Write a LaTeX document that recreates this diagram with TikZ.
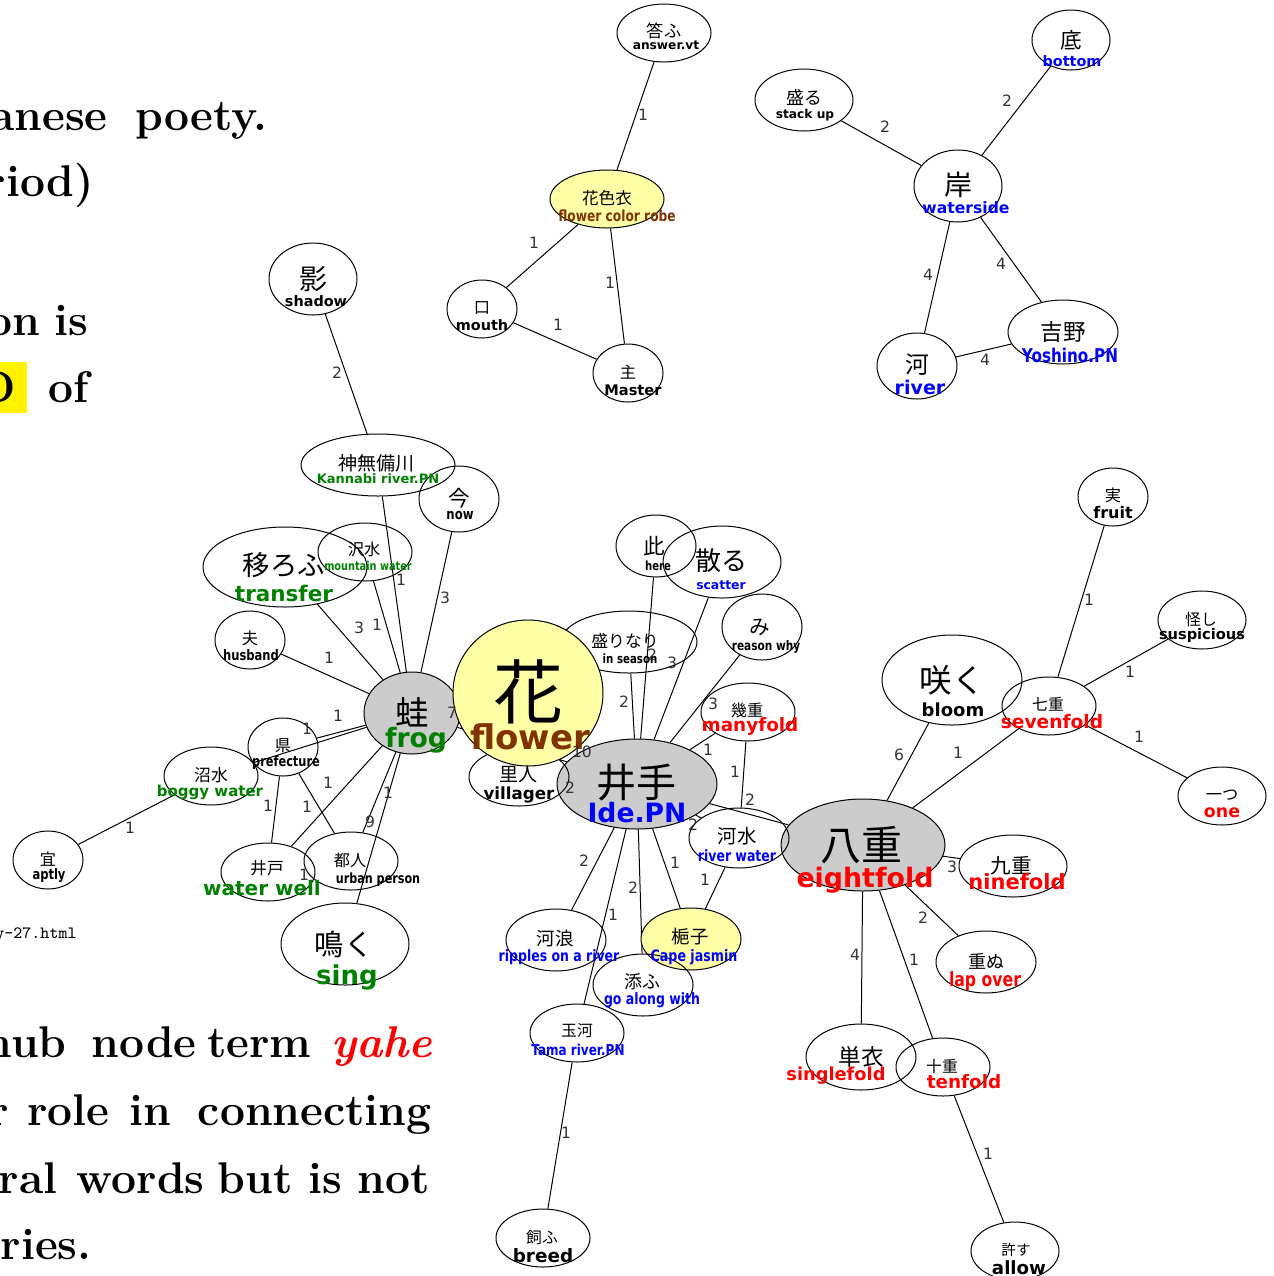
\documentclass[tikz,border=0pt]{standalone}
\usepackage{fontspec}
\usetikzlibrary{shapes.geometric}
\newfontfamily\jpf{Noto Sans CJK JP}
\newfontfamily\enf{DejaVu Sans}
\newfontfamily\enc[FakeStretch=0.8]{DejaVu Sans}
\definecolor{hubgray}{RGB}{204,204,204}
\definecolor{yel}{RGB}{255,255,165}
\definecolor{eblue}{RGB}{0,0,255}
\definecolor{egreen}{RGB}{0,128,0}
\definecolor{ered}{RGB}{255,0,0}
\definecolor{ebrown}{RGB}{128,51,0}
\definecolor{lblgray}{RGB}{51,51,51}
\definecolor{hilite}{RGB}{255,242,0}
\newcommand\J[2]{{\jpf\fontsize{#1}{#1}\selectfont #2}}
\newcommand\E[3]{{\color{#1}\enf\bfseries\fontsize{#2}{#2}\selectfont #3}}
\newcommand\EC[3]{{\color{#1}\enc\bfseries\fontsize{#2}{#2}\selectfont #3}}
\newcommand\nd[6]{\node[#1,minimum width=#5pt,minimum height=#6pt] (#2) at (#3,#4) {};}
\newcommand\tx[4]{\node[txt] (#1) at (#2,#3) {#4};}
\newcommand\lb[4]{\node[lbl] (#1) at (#2,#3) {#4};}
\pgfdeclarelayer{bg}
\pgfdeclarelayer{fg}
\pgfsetlayers{bg,main,fg}
\begin{document}
\begin{tikzpicture}[x=0.5pt,y=-0.5pt,
  wn/.style={ellipse,draw=black,line width=0.5pt,inner sep=0pt},
  gn/.style={wn,fill=hubgray},
  yn/.style={wn,fill=yel},
  edge/.style={draw=black,line width=0.5pt},
  txt/.style={inner sep=0pt,anchor=center},
  lbl/.style={inner sep=0pt,anchor=center,text=lblgray,font=\enf\fontsize{7.8}{7.8}\selectfont},
  lt/.style={inner sep=0pt,anchor=base east,font=\fontsize{22.2}{26}\selectfont\bfseries},
  ]
\useasboundingbox (0,0) rectangle (1274,1276);

% ---- left background text fragments ----
\node[lt] (w1) at (108,130) {anese};
\node[lt] (w2) at (268,130) {poety.};
\node[lt] (w3) at (94,196) {riod)};
\node[lt] (w4) at (41,335) {on};
\node[lt] (w5) at (89,335) {is};
\fill[hilite] (-10,362) rectangle (27,413);
\node[lt] (w6) at (16,402) {D};
\node[lt] (w7) at (89,402) {of};
\node[inner sep=0pt,anchor=base east,font=\ttfamily\fontsize{8.6}{10}\selectfont] (w8) at (77,938) {y-27.html};
\node[lt] (w9) at (67,1057) {hub};
\node[lt] (w10) at (197,1057) {node};
\node[lt] (w11) at (312,1057) {term};
\node[lt,text=ered,font=\fontsize{22.2}{26}\selectfont\bfseries\itshape] (w12) at (433,1057) {yahe};
\node[lt] (w13) at (9,1125) {r};
\node[lt] (w14) at (110,1125) {role};
\node[lt] (w15) at (172,1125) {in};
\node[lt] (w16) at (432,1125) {connecting};
\node[lt] (w17) at (58,1193) {ral};
\node[lt] (w18) at (205,1193) {words};
\node[lt] (w19) at (293,1193) {but};
\node[lt] (w20) at (343,1193) {is};
\node[lt] (w21) at (430,1193) {not};
\node[lt] (w22) at (92,1259) {ries.};

% ---- graph nodes (filled first) ----
\nd{gn}{kawazu}{412}{713}{48}{41}
\nd{gn}{ide}{637}{784}{80}{45}
\nd{gn}{yae}{863}{845}{82}{46}
\nd{yn}{hanairo}{607}{199}{57}{29}
\nd{yn}{kuchinashi}{691}{939}{50}{31}
\nd{wn}{sakari}{629}{642}{68}{31}
\nd{wn}{satobito}{519}{777}{50}{29}
\nd{yn}{hana}{528}{693}{75}{73}
\nd{wn}{kotau}{664}{33}{47}{29}
\nd{wn}{kuchi}{482}{309}{35}{29}
\nd{wn}{nushi}{628}{373}{35}{29}
\nd{wn}{moru}{804}{100}{49}{31}
\nd{wn}{soko}{1071}{40}{39}{30}
\nd{wn}{kishi}{958}{186}{44}{36}
\nd{wn}{kawa}{917}{366}{40}{33}
\nd{wn}{yoshino}{1063}{332}{55}{32}
\nd{wn}{kage}{313}{279}{44}{36}
\nd{wn}{kannabi}{378}{465}{77}{31}
\nd{wn}{ima}{459}{499}{40}{33}
\nd{wn}{utsurou}{285}{567}{82}{40}
\nd{wn}{sawamizu}{365}{552}{47}{29}
\nd{wn}{otto}{250}{640}{35}{29}
\nd{wn}{agata}{283}{747}{35}{29}
\nd{wn}{numamizu}{211}{776}{47}{29}
\nd{wn}{mube}{48}{860}{35}{29}
\nd{wn}{ido}{268}{872}{47}{29}
\nd{wn}{miyako}{351}{861}{47}{29}
\nd{wn}{naku}{345}{944}{64}{41}
\nd{wn}{kore}{656}{546}{40}{31}
\nd{wn}{chiru}{722}{562}{59}{36}
\nd{wn}{mi}{762}{627}{40}{33}
\nd{wn}{ikue}{748}{712}{47}{29}
\nd{wn}{kawamizu}{739}{838}{50}{30}
\nd{wn}{saku}{952}{680}{70}{45}
\nd{wn}{nanae}{1049}{706}{47}{29}
\nd{wn}{jitsu}{1113}{497}{35}{29}
\nd{wn}{ayashi}{1202}{620}{44}{29}
\nd{wn}{hitotsu}{1222}{796}{44}{29}
\nd{wn}{kokonoe}{1013}{866}{54}{31}
\nd{wn}{kasanu}{986}{962}{50}{31}
\nd{wn}{hitoe}{861}{1057}{55}{33}
\nd{wn}{toe}{943}{1067}{47}{29}
\nd{wn}{yurusu}{1015}{1251}{44}{29}
\nd{wn}{kawanami}{556}{940}{50}{31}
\nd{wn}{sou}{643}{985}{50}{31}
\nd{wn}{tamagawa}{577}{1033}{47}{29}
\nd{wn}{kau}{543}{1238}{47}{29}

% ---- edges (behind) ----
\begin{pgfonlayer}{bg}
\draw[edge] (kotau) -- (hanairo);
\draw[edge] (hanairo) -- (kuchi);
\draw[edge] (hanairo) -- (nushi);
\draw[edge] (kuchi) -- (nushi);
\draw[edge] (moru) -- (kishi);
\draw[edge] (soko) -- (kishi);
\draw[edge] (kishi) -- (kawa);
\draw[edge] (kishi) -- (yoshino);
\draw[edge] (kawa) -- (yoshino);
\draw[edge] (kage) -- (kannabi);
\draw[edge] (kannabi) -- (kawazu);
\draw[edge] (ima) -- (kawazu);
\draw[edge] (utsurou) -- (kawazu);
\draw[edge] (sawamizu) -- (kawazu);
\draw[edge] (otto) -- (kawazu);
\draw[edge] (numamizu) -- (kawazu);
\draw[edge] (agata) -- (kawazu);
\draw[edge] (numamizu) -- (mube);
\draw[edge] (agata) -- (ido);
\draw[edge] (agata) -- (miyako);
\draw[edge] (kawazu) -- (ido);
\draw[edge] (kawazu) -- (miyako);
\draw[edge] (kawazu) -- (naku);
\draw[edge] (kawazu) -- (hana);
\draw[edge] (kawazu) -- (ide);
\draw[edge] (ide) -- (satobito);
\draw[edge] (ide) -- (sakari);
\draw[edge] (ide) -- (kore);
\draw[edge] (ide) -- (chiru);
\draw[edge] (ide) -- (mi);
\draw[edge] (ide) -- (ikue);
\draw[edge] (ikue) -- (kawamizu);
\draw[edge] (ide) -- (yae);
\draw[edge] (ide) -- (kawamizu);
\draw[edge] (ide) -- (kawanami);
\draw[edge] (ide) -- (tamagawa);
\draw[edge] (ide) -- (sou);
\draw[edge] (ide) -- (kuchinashi);
\draw[edge] (kawamizu) -- (kuchinashi);
\draw[edge] (tamagawa) -- (kau);
\draw[edge] (yae) -- (saku);
\draw[edge] (yae) -- (nanae);
\draw[edge] (yae) -- (kokonoe);
\draw[edge] (yae) -- (kasanu);
\draw[edge] (yae) -- (hitoe);
\draw[edge] (yae) -- (toe);
\draw[edge] (toe) -- (yurusu);
\draw[edge] (nanae) -- (jitsu);
\draw[edge] (nanae) -- (ayashi);
\draw[edge] (nanae) -- (hitotsu);
\end{pgfonlayer}

% ---- texts and labels (front) ----
\begin{pgfonlayer}{fg}
\tx{kotau-j}{664}{31}{\J{8.6}{答ふ}}
\tx{kotau-e}{666}{45}{\E{black}{6.1}{answer.vt}}
\tx{hanairo-j}{607}{198}{\J{8.3}{花色衣}}
\tx{hanairo-e}{617}{216}{\EC{ebrown}{7.65}{flower color robe}}
\tx{kuchi-j}{482}{308}{\J{8.1}{口}}
\tx{kuchi-e}{482}{325}{\E{black}{7.2}{mouth}}
\tx{nushi-j}{628}{372}{\J{8.1}{主}}
\tx{nushi-e}{633}{390}{\E{black}{7.3}{Master}}
\tx{moru-j}{804}{98}{\J{8.9}{盛る}}
\tx{moru-e}{805}{115}{\E{black}{6.1}{stack up}}
\tx{soko-j}{1071}{40}{\J{10.8}{底}}
\tx{soko-e}{1072}{61}{\E{eblue}{7.2}{bottom}}
\tx{kishi-j}{958}{185}{\J{14}{岸}}
\tx{kishi-e}{966}{208}{\E{eblue}{7.8}{waterside}}
\tx{kawa-j}{917}{365}{\J{11.9}{河}}
\tx{kawa-e}{920}{387}{\E{eblue}{9.5}{river}}
\tx{yoshino-j}{1063}{332}{\J{11.3}{吉野}}
\tx{yoshino-e}{1070}{355}{\EC{eblue}{9.5}{Yoshino.PN}}
\tx{kage-j}{313}{279}{\J{14}{影}}
\tx{kage-e}{316}{301}{\E{black}{7.2}{shadow}}
\tx{kannabi-j}{376}{463}{\J{9.5}{神無備川}}
\tx{kannabi-e}{378}{479}{\E{egreen}{6.5}{Kannabi river.PN}}
\tx{ima-j}{459}{498}{\J{10.8}{今}}
\tx{ima-e}{460}{516}{\EC{black}{7.3}{now}}
\tx{utsurou-j}{284}{565}{\J{13.7}{移ろふ}}
\tx{utsurou-e}{284}{593}{\E{egreen}{10.75}{transfer}}
\tx{sawamizu-j}{364}{549}{\J{8.1}{沢水}}
\tx{sawamizu-e}{368}{566}{\EC{egreen}{6.1}{mountain water}}
\tx{otto-j}{250}{638}{\J{8.1}{夫}}
\tx{otto-e}{251}{655}{\EC{black}{7.2}{husband}}
\tx{kawazu-j}{412}{712}{\J{16.7}{蛙}}
\tx{kawazu-e}{416}{740}{\E{egreen}{13.3}{frog}}
\tx{agata-j}{283}{746}{\J{8.1}{県}}
\tx{agata-e}{286}{763}{\EC{black}{7.1}{prefecture}}
\tx{numamizu-j}{211}{775}{\J{8.4}{沼水}}
\tx{numamizu-e}{210}{792}{\E{egreen}{7.5}{boggy water}}
\tx{mube-j}{48}{859}{\J{8.1}{宜}}
\tx{mube-e}{49}{876}{\EC{black}{7.2}{aptly}}
\tx{ido-j}{267}{868}{\J{8.4}{井戸}}
\tx{ido-e}{262}{888}{\E{egreen}{10}{water well}}
\tx{miyako-j}{350}{860}{\J{8.1}{都人}}
\tx{miyako-e}{378}{880}{\EC{black}{7}{urban person}}
\tx{naku-j}{344}{944}{\J{14.6}{鳴く}}
\tx{naku-e}{347}{977}{\E{egreen}{13}{sing}}
\tx{hana-j}{528}{692}{\J{35}{花}}
\tx{hana-e}{530}{737}{\E{ebrown}{17}{flower}}
\tx{sakari-j}{625}{641}{\J{8.4}{盛りなり}}
\tx{sakari-e}{630}{659}{\EC{black}{6.4}{in season}}
\tx{kore-j}{654}{546}{\J{10.8}{此}}
\tx{kore-e}{658}{566}{\EC{black}{6.3}{here}}
\tx{chiru-j}{721}{561}{\J{13}{散る}}
\tx{chiru-e}{721}{585}{\E{eblue}{6.2}{scatter}}
\tx{mi-j}{760}{627}{\J{10.3}{み}}
\tx{mi-e}{766}{647}{\EC{black}{6.6}{reason why}}
\tx{ikue-j}{747}{710}{\J{8.1}{幾重}}
\tx{ikue-e}{750}{726}{\E{ered}{9.2}{manyfold}}
\tx{satobito-j}{518}{774}{\J{9.5}{里人}}
\tx{satobito-e}{519}{795}{\E{black}{8.35}{villager}}
\tx{ide-j}{636}{783}{\J{20}{井手}}
\tx{ide-e}{637}{813}{\E{eblue}{13.3}{Ide.PN}}
\tx{kawamizu-j}{737}{836}{\J{9.7}{河水}}
\tx{kawamizu-e}{737}{856}{\EC{eblue}{7.8}{river water}}
\tx{yae-j}{861}{845}{\J{20.5}{八重}}
\tx{yae-e}{865}{880}{\E{ered}{13.4}{eightfold}}
\tx{saku-j}{952}{680}{\J{16.2}{咲く}}
\tx{saku-e}{953}{710}{\E{black}{9}{bloom}}
\tx{nanae-j}{1048}{704}{\J{7.9}{七重}}
\tx{nanae-e}{1052}{722}{\E{ered}{9.3}{sevenfold}}
\tx{jitsu-j}{1113}{495}{\J{8.1}{実}}
\tx{jitsu-e}{1113}{513}{\E{black}{8}{fruit}}
\tx{ayashi-j}{1201}{619}{\J{7.9}{怪し}}
\tx{ayashi-e}{1202}{635}{\E{black}{7.3}{suspicious}}
\tx{hitotsu-j}{1222}{795}{\J{8.1}{一つ}}
\tx{hitotsu-e}{1222}{813}{\E{ered}{8.7}{one}}
\tx{kokonoe-j}{1011}{866}{\J{10.3}{九重}}
\tx{kokonoe-e}{1017}{882}{\E{ered}{10.5}{ninefold}}
\tx{kasanu-j}{986}{961}{\J{9}{重ぬ}}
\tx{kasanu-e}{985}{981}{\EC{ered}{9.8}{lap over}}
\tx{hitoe-j}{861}{1057}{\J{11.3}{単衣}}
\tx{hitoe-e}{836}{1076}{\E{ered}{8.9}{singlefold}}
\tx{toe-j}{942}{1066}{\J{7.9}{十重}}
\tx{toe-e}{964}{1082}{\E{ered}{9.2}{tenfold}}
\tx{yurusu-j}{1016}{1250}{\J{7.3}{許す}}
\tx{yurusu-e}{1019}{1268}{\E{black}{9.1}{allow}}
\tx{kawanami-j}{555}{939}{\J{9.2}{河浪}}
\tx{kawanami-e}{559}{957}{\EC{eblue}{7.8}{ripples on a river}}
\tx{kuchinashi-j}{690}{937}{\J{9.2}{梔子}}
\tx{kuchinashi-e}{694}{957}{\EC{eblue}{7.9}{Cape jasmin}}
\tx{sou-j}{642}{982}{\J{9}{添ふ}}
\tx{sou-e}{652}{1000}{\EC{eblue}{7.8}{go along with}}
\tx{tamagawa-j}{577}{1031}{\J{7.9}{玉河}}
\tx{tamagawa-e}{578}{1050}{\EC{eblue}{7.5}{Tama river.PN}}
\tx{kau-j}{542}{1237}{\J{7.9}{飼ふ}}
\tx{kau-e}{543}{1256}{\E{black}{9.2}{breed}}

\lb{l1}{643}{115}{1}
\lb{l2}{534}{243}{1}
\lb{l3}{610}{283}{1}
\lb{l4}{558}{325}{1}
\lb{l5}{885}{127}{2}
\lb{l6}{1007}{101}{2}
\lb{l7}{928}{275}{4}
\lb{l8}{1001}{264}{4}
\lb{l9}{985}{360}{4}
\lb{l10}{337}{373}{2}
\lb{l11}{401}{580}{1}
\lb{l12}{445}{598}{3}
\lb{l13}{359}{628}{3}
\lb{l14}{377}{625}{1}
\lb{l15}{329}{658}{1}
\lb{l16}{307}{729}{1}
\lb{l17}{338}{716}{1}
\lb{l18}{130}{828}{1}
\lb{l19}{268}{806}{1}
\lb{l20}{307}{807}{1}
\lb{l21}{328}{783}{1}
\lb{l22}{370}{822}{9}
\lb{l23}{388}{793}{1}
\lb{l24}{304}{875}{1}
\lb{l25}{452}{713}{7}
\lb{l26}{582}{752}{10}
\lb{l27}{570}{788}{2}
\lb{l28}{624}{702}{2}
\lb{l29}{652}{655}{2}
\lb{l30}{672}{663}{3}
\lb{l31}{713}{704}{3}
\lb{l32}{708}{750}{1}
\lb{l33}{735}{772}{1}
\lb{l34}{750}{800}{2}
\lb{l35}{693}{825}{2}
\lb{l36}{584}{861}{2}
\lb{l37}{613}{915}{1}
\lb{l38}{633}{888}{2}
\lb{l39}{675}{863}{1}
\lb{l40}{705}{880}{1}
\lb{l41}{566}{1133}{1}
\lb{l42}{899}{755}{6}
\lb{l43}{958}{753}{1}
\lb{l44}{952}{867}{3}
\lb{l45}{923}{918}{2}
\lb{l46}{855}{955}{4}
\lb{l47}{914}{960}{1}
\lb{l48}{988}{1154}{1}
\lb{l49}{1089}{600}{1}
\lb{l50}{1130}{672}{1}
\lb{l51}{1139}{737}{1}
\end{pgfonlayer}
\end{tikzpicture}
\end{document}
